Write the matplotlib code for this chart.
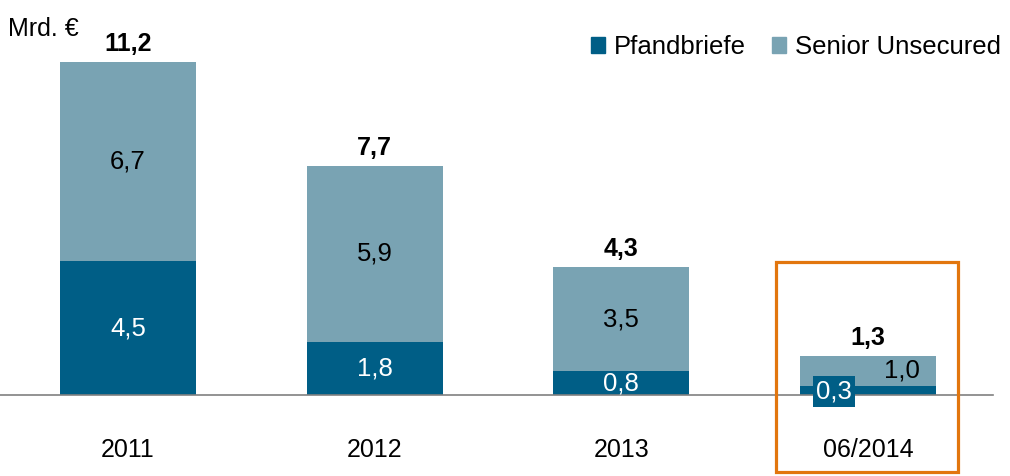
import matplotlib
matplotlib.use("Agg")
import matplotlib.pyplot as plt
from matplotlib.patches import Rectangle, Patch

plt.rcParams['font.family'] = ['Liberation Sans', 'DejaVu Sans']

categories = ["2011", "2012", "2013", "06/2014"]
pfandbriefe = [4.5, 1.8, 0.8, 0.3]
senior = [6.7, 5.9, 3.5, 1.0]
totals = [11.2, 7.7, 4.3, 1.3]
pf_labels = ["4,5", "1,8", "0,8", "0,3"]
su_labels = ["6,7", "5,9", "3,5", "1,0"]
tot_labels = ["11,2", "7,7", "4,3", "1,3"]

c_dark = "#005E86"
c_light = "#79A3B3"
c_orange = "#E2760E"

fig = plt.figure(figsize=(10.10, 4.76), dpi=100)
ax = fig.add_axes([0, 0, 1, 1])
step = 246.7
x0 = 128
ax.set_xlim(-x0 / step, (1010 - x0) / step)
ppu = 29.7
base = 81
ax.set_ylim(-base / ppu, (476 - base) / ppu)
ax.axis("off")

x = list(range(len(categories)))
w = 136 / step
ax.bar(x, pfandbriefe, width=w, color=c_dark, label="Pfandbriefe", zorder=2)
ax.bar(x, senior, width=w, bottom=pfandbriefe, color=c_light, label="Senior Unsecured", zorder=2)

ax.axhline(0, xmin=0, xmax=993 / 1010, color="#808080", lw=1.2, zorder=3)

fs = 18.5
fsc = 18
fsb = 18
for i in range(len(categories)):
    if i < 3:
        ax.text(i, pfandbriefe[i] / 2, pf_labels[i], ha="center", va="center", color="white", fontsize=fs, zorder=4)
        ax.text(i, pfandbriefe[i] + senior[i] / 2, su_labels[i], ha="center", va="center", color="black", fontsize=fs, zorder=4)
    else:
        ax.text(i + 0.138, pfandbriefe[i] + senior[i] / 2 + 0.01, su_labels[i], ha="center", va="center", color="black", fontsize=fs, zorder=4)
        ax.text(i - 0.138, 0.12, pf_labels[i], ha="center", va="center", color="white", fontsize=fs, zorder=5,
                bbox=dict(boxstyle="square,pad=0.13", fc=c_dark, ec="none"))
    ax.text(i, totals[i] + 0.62, tot_labels[i], ha="center", va="center", color="black", fontsize=fsb, fontweight="bold", zorder=4)
    ax.text(i, -1.86, categories[i], ha="center", va="center", color="black", fontsize=fsc)

# highlight box around last category
bx0 = (776 - x0) / step
bx1 = (958 - x0) / step
by0 = -77 / ppu
by1 = 133 / ppu
ax.add_patch(Rectangle((bx0, by0), bx1 - bx0, by1 - by0, fill=False, ec=c_orange, lw=2.3, zorder=6))

fig.text(8 / 1010, 1 - 29 / 476, "Mrd. €", ha="left", va="center", fontsize=18)

handles = [Patch(color=c_dark, label="Pfandbriefe"), Patch(color=c_light, label="Senior Unsecured")]
ax.legend(handles=handles, loc="upper right", bbox_to_anchor=(1001 / 1010, 1 - 35 / 476),
          ncol=2, frameon=False, fontsize=18.5, handlelength=0.55, handleheight=0.55,
          handletextpad=0.35, columnspacing=1.0, borderaxespad=0, borderpad=0)

fig.savefig("out.png", dpi=100)
